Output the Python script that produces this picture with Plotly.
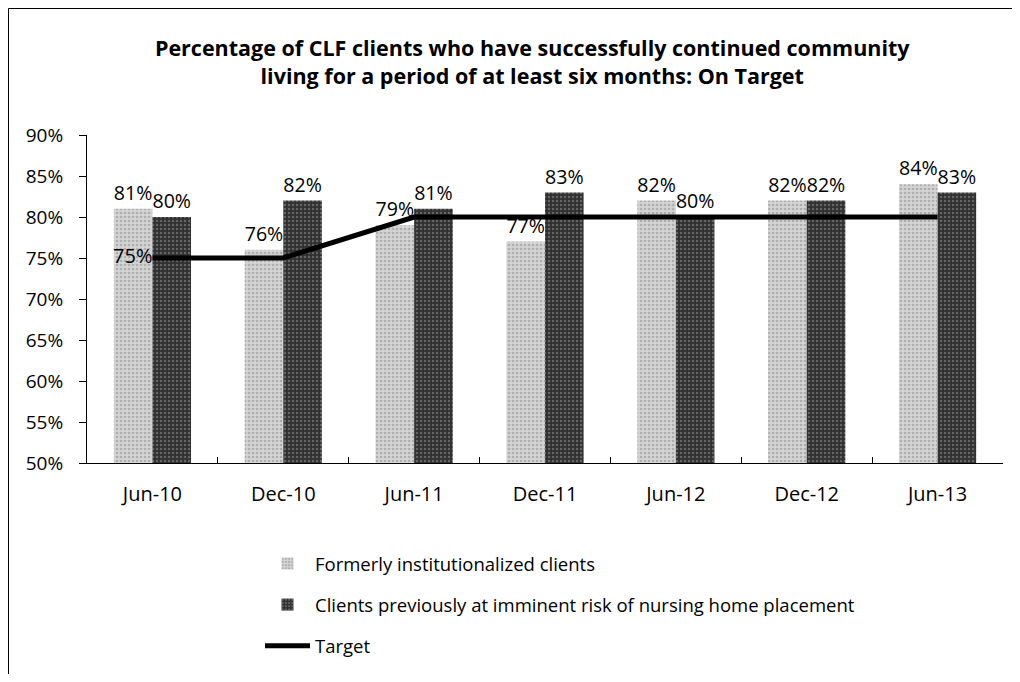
import plotly.graph_objects as go

categories = ["Jun-10", "Dec-10", "Jun-11", "Dec-11", "Jun-12", "Dec-12", "Jun-13"]
formerly = [81, 76, 79, 77, 82, 82, 84]
imminent = [80, 82, 81, 83, 80, 82, 83]
target = [75, 75, 80, 80, 80, 80, 80]
target_labels = ["75%", "", "", "", "", "", ""]
y_ticks = [50, 55, 60, 65, 70, 75, 80, 85, 90]

FONT = "Open Sans"
# page body has an 8px margin, so the figure is drawn 8px right/down
W, H = 1012, 666
L, R, T, B = 79, 17, 127, 211
pw, ph = W - L - R, H - T - B

fig = go.Figure()
fig.add_trace(go.Bar(
    x=categories, y=formerly, name="Formerly institutionalized clients",
    marker=dict(color="#c8c8c8", line=dict(width=0),
                pattern=dict(shape=".", fgcolor="#858585", bgcolor="#d4d4d4", size=4, solidity=0.35)),
    text=[f"{v}%" for v in formerly], textposition="outside", cliponaxis=False,
    textfont=dict(family=FONT, size=20, color="black"), legendgroup="a",
))
fig.add_trace(go.Bar(
    x=categories, y=imminent, name="Clients previously at imminent risk of nursing home placement",
    marker=dict(color="#3a3a3a", line=dict(width=0),
                pattern=dict(shape=".", fgcolor="#9a9a9a", bgcolor="#303030", size=4, solidity=0.3)),
    text=[f"{v}%" for v in imminent], textposition="outside", cliponaxis=False,
    textfont=dict(family=FONT, size=20, color="black"), legendgroup="b",
))
fig.add_trace(go.Scatter(
    x=categories, y=target, name="Target", mode="lines+text",
    line=dict(color="black", width=5),
    text=target_labels, textposition="middle left",
    textfont=dict(family=FONT, size=20, color="black"), legendgroup="c",
))

fig.update_layout(
    width=W, height=H,
    margin=dict(l=L, r=R, t=T, b=B, autoexpand=False),
    paper_bgcolor="white", plot_bgcolor="white",
    barmode="group", bargap=0.41, bargroupgap=0,
    font=dict(family=FONT, size=18, color="black"),
    title=dict(
        text="<b>Percentage of CLF clients who have successfully continued community<br>living for a period of at least six months: On Target</b>",
        x=0.518, xanchor="center", y=0.928, yanchor="top",
        font=dict(family=FONT, size=21.5, color="black"),
    ),
    legend=dict(
        x=(252 - L) / pw, xanchor="left", y=(H - B - 537) / ph, yanchor="top",
        orientation="v", font=dict(family=FONT, size=18.5, color="black"),
        tracegroupgap=14, itemwidth=45, bgcolor="rgba(0,0,0,0)",
    ),
    showlegend=True,
    shapes=[
        dict(type="line", xref="paper", yref="paper",
             x0=(0.5 - L) / pw, x1=(W - L) / pw,
             y0=(H - B - 0.5) / ph, y1=(H - B - 0.5) / ph,
             line=dict(color="black", width=1), layer="below"),
        dict(type="line", xref="paper", yref="paper",
             x0=(0.5 - L) / pw, x1=(0.5 - L) / pw,
             y0=(H - B - H) / ph, y1=(H - B - 0.5) / ph,
             line=dict(color="black", width=1), layer="below"),
    ],
)
fig.update_xaxes(
    showline=True, linecolor="black", linewidth=1, showgrid=False,
    ticks="inside", tickson="boundaries", ticklen=6, tickcolor="black",
    tickfont=dict(family=FONT, size=20, color="black"), ticklabelstandoff=13,
)
fig.update_yaxes(
    range=[50, 90], tickvals=y_ticks, ticktext=[f"{v}%" for v in y_ticks],
    showline=True, linecolor="black", linewidth=1, showgrid=False,
    ticks="outside", ticklen=7, tickcolor="black", ticklabelstandoff=12,
    tickfont=dict(family=FONT, size=19, color="black"), zeroline=False,
)

fig.write_html("out.html")
